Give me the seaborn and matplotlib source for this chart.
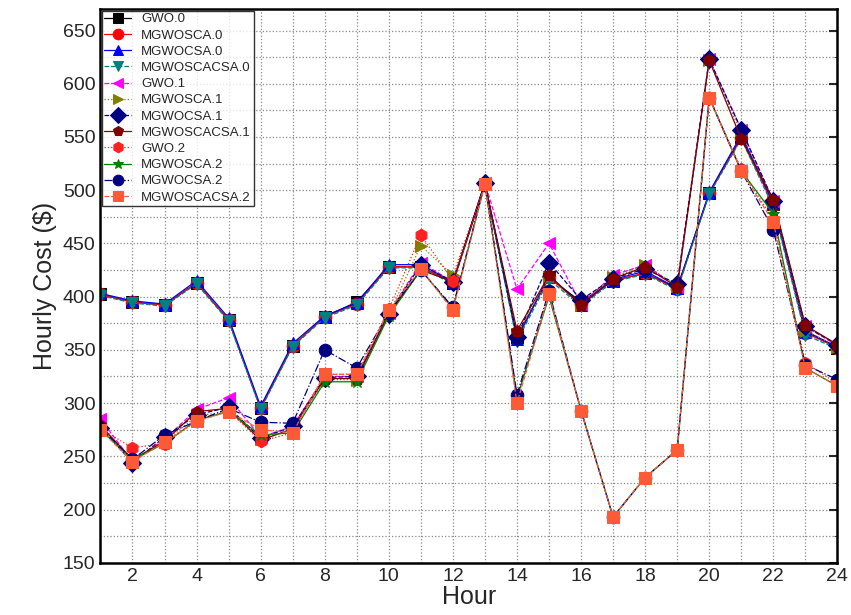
import matplotlib
matplotlib.use("Agg")
import matplotlib.pyplot as plt
import seaborn as sns
import pandas as pd
from matplotlib.ticker import MultipleLocator

hours = list(range(1, 25))
names = ["GWO.0","MGWOSCA.0","MGWOCSA.0","MGWOSCACSA.0","GWO.1","MGWOSCA.1","MGWOCSA.1",
         "MGWOSCACSA.1","GWO.2","MGWOSCA.2","MGWOCSA.2","MGWOSCACSA.2"]
gwo0 = [402,395,392,413,378,295,354,381,395,428,428,413,506,362,418,395,415,422,408,497,550,487,368,352]
mgwosca0 = [402,395,392,413,378,295,354,381,393,428,428,413,506,362,418,393,415,422,407,497,549,486,366,352]
mgwocsa0 = [403,396,393,415,380,297,356,382,394,430,430,414,507,360,420,392,416,424,408,498,552,488,367,353]
mgwoscacsa0 = [401,394,391,412,377,294,353,380,392,427,427,412,505,358,416,391,414,421,406,496,548,484,364,351]
gwo1 = [285,245,266,294,305,268,278,325,325,385,432,414,507,407,450,393,420,430,409,623,557,490,372,354]
mgwosca1 = [278,246,263,288,292,266,275,322,322,383,448,420,506,365,418,392,418,430,410,622,553,490,368,353]
mgwocsa1 = [277,244,268,289,296,267,278,324,325,384,430,414,507,362,432,397,417,426,412,623,557,490,372,355]
mgwoscacsa1 = [279,247,264,292,295,265,276,323,323,384,425,414,506,368,420,392,417,428,409,622,548,491,373,355]
gwo2 = [276,258,262,283,293,264,272,327,327,388,458,415,506,303,403,293,193,230,256,587,520,472,338,318]
mgwosca2 = [275,247,262,284,292,270,272,320,320,382,425,389,506,305,400,293,193,230,256,587,518,478,333,316]
mgwocsa2 = [277,247,270,283,295,282,281,350,333,385,425,390,507,308,405,293,193,230,256,587,518,463,336,322]
mgwoscacsa2 = [275,245,263,283,292,275,272,327,327,387,426,387,506,300,402,293,193,230,256,587,518,470,333,316]
values = [gwo0,mgwosca0,mgwocsa0,mgwoscacsa0,gwo1,mgwosca1,mgwocsa1,mgwoscacsa1,gwo2,mgwosca2,mgwocsa2,mgwoscacsa2]

colors = ["black","red","blue","#008080","magenta","#808000","#000080","#800000","#ff2020","#008000","#000080","#ff5a36"]
markers = ["s","o","^","v","<",">","D","p","h","*","o","s"]
styles = ["-","-","-","--","--",":","--","-",":","-","-.","--"]

df = pd.DataFrame([(n, h, v) for n, vals in zip(names, values) for h, v in zip(hours, vals)],
                  columns=["series","Hour","Cost"])

sns.set_style("white")
plt.rcParams['font.family'] = ['Liberation Sans', 'DejaVu Sans']
fig = plt.figure(figsize=(8.51, 6.15), dpi=100)
ax = fig.add_axes([0.118, 0.085, 0.866, 0.9])
for n, c, m, ls in zip(names, colors, markers, styles):
    sub = df[df.series == n]
    sns.lineplot(data=sub, x="Hour", y="Cost", ax=ax, color=c, marker=m, markersize=9,
                 linestyle=ls, linewidth=0.9, label=n, markeredgecolor=c)
ax.set_xlim(1, 24)
ax.set_ylim(150, 670)
ax.set_xticks(range(2, 25, 2))
ax.set_yticks(range(150, 651, 50))
ax.xaxis.set_minor_locator(MultipleLocator(1))
ax.yaxis.set_minor_locator(MultipleLocator(25))
ax.grid(True, which="both", linestyle=":", color="#888888", linewidth=0.9)
ax.tick_params(which="both", direction="in", right=True, labelsize=14)
ax.tick_params(which="major", length=6, width=1.5)
for s in ax.spines.values():
    s.set_linewidth(1.8)
    s.set_color("black")
ax.set_xlabel("Hour", fontsize=18, labelpad=0)
ax.set_ylabel("Hourly Cost ($)", fontsize=18)
leg = ax.legend(loc="upper left", fontsize=9.5, frameon=True, fancybox=False, edgecolor="black",
                borderpad=0.2, labelspacing=0.3, handlelength=2.0, borderaxespad=0.1, markerscale=0.85)
fig.savefig("out.png", dpi=100)
